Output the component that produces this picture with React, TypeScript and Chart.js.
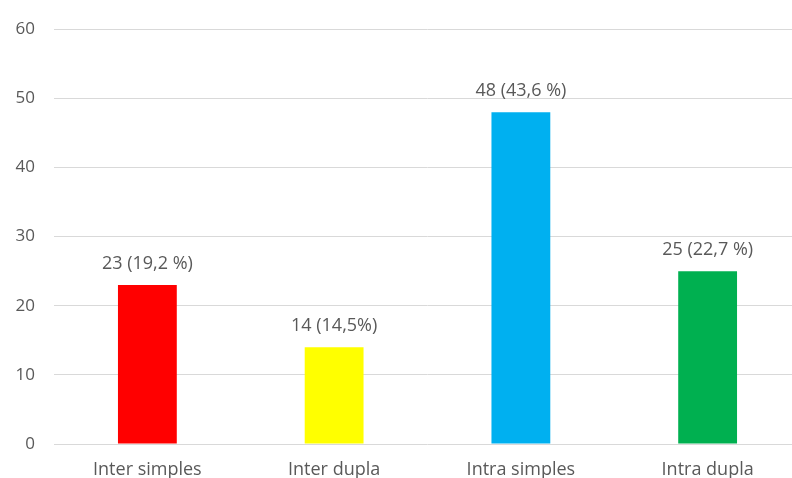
import React, { useEffect, useRef } from "react";
import { Chart, registerables } from "chart.js";

Chart.register(...registerables);

const categories = ["Inter simples", "Inter dupla", "Intra simples", "Intra dupla"];
const values = [23, 14, 48, 25];
const valueLabels = ["23 (19,2 %)", "14 (14,5%)", "48 (43,6 %)", "25 (22,7 %)"];
const barColors = ["#FF0000", "#FFFF00", "#00B0F0", "#00B050"];
const yTicks = [0, 10, 20, 30, 40, 50, 60];

const FONT = "'Open Sans', 'Noto Sans', sans-serif";
const TEXT = "#595959";

const dataLabelPlugin = {
  id: "dataLabels",
  afterDatasetsDraw(chart: any) {
    const ctx = chart.ctx;
    const meta = chart.getDatasetMeta(0);
    ctx.save();
    ctx.font = `18px ${FONT}`;
    ctx.fillStyle = TEXT;
    ctx.textAlign = "center";
    ctx.textBaseline = "alphabetic";
    meta.data.forEach((bar: any, i: number) => {
      ctx.fillText(valueLabels[i], bar.x, bar.y - 16);
    });
    ctx.restore();
  },
};

export default function App() {
  const ref = useRef<HTMLCanvasElement | null>(null);

  useEffect(() => {
    if (!ref.current) return;
    const chart = new Chart(ref.current, {
      type: "bar",
      data: {
        labels: categories,
        datasets: [
          {
            data: values,
            backgroundColor: barColors,
            borderWidth: 0,
            categoryPercentage: 1,
            barPercentage: 0.315,
          },
        ],
      },
      options: {
        responsive: false,
        animation: false,
        layout: { padding: { top: 25, left: 0, right: 0, bottom: 0 } },
        plugins: {
          legend: { display: false },
          tooltip: { enabled: false },
        },
        scales: {
          x: {
            afterFit(scale: any) {
              scale.height = 36;
            },
            grid: { display: false, drawTicks: false },
            border: { display: false },
            ticks: {
              color: TEXT,
              font: { family: FONT, size: 18 },
              padding: 15,
              maxRotation: 0,
            },
          },
          y: {
            min: 0,
            max: 60,
            afterFit(scale: any) {
              scale.width = 54;
            },
            afterBuildTicks(scale: any) {
              scale.ticks = yTicks.map((v) => ({ value: v }));
            },
            grid: { color: "#D9D9D9", lineWidth: 1, drawTicks: false },
            border: { display: false },
            ticks: {
              color: TEXT,
              font: { family: FONT, size: 17 },
              padding: 19,
            },
          },
        },
      },
      plugins: [dataLabelPlugin],
    });
    return () => chart.destroy();
  }, []);

  return (
    <div
      style={{
        position: "absolute",
        left: 0,
        top: 0,
        width: 792,
        height: 478,
        overflow: "hidden",
        background: "#FFFFFF",
      }}
    >
      <canvas ref={ref} width={801} height={480} style={{ display: "block" }} />
    </div>
  );
}
